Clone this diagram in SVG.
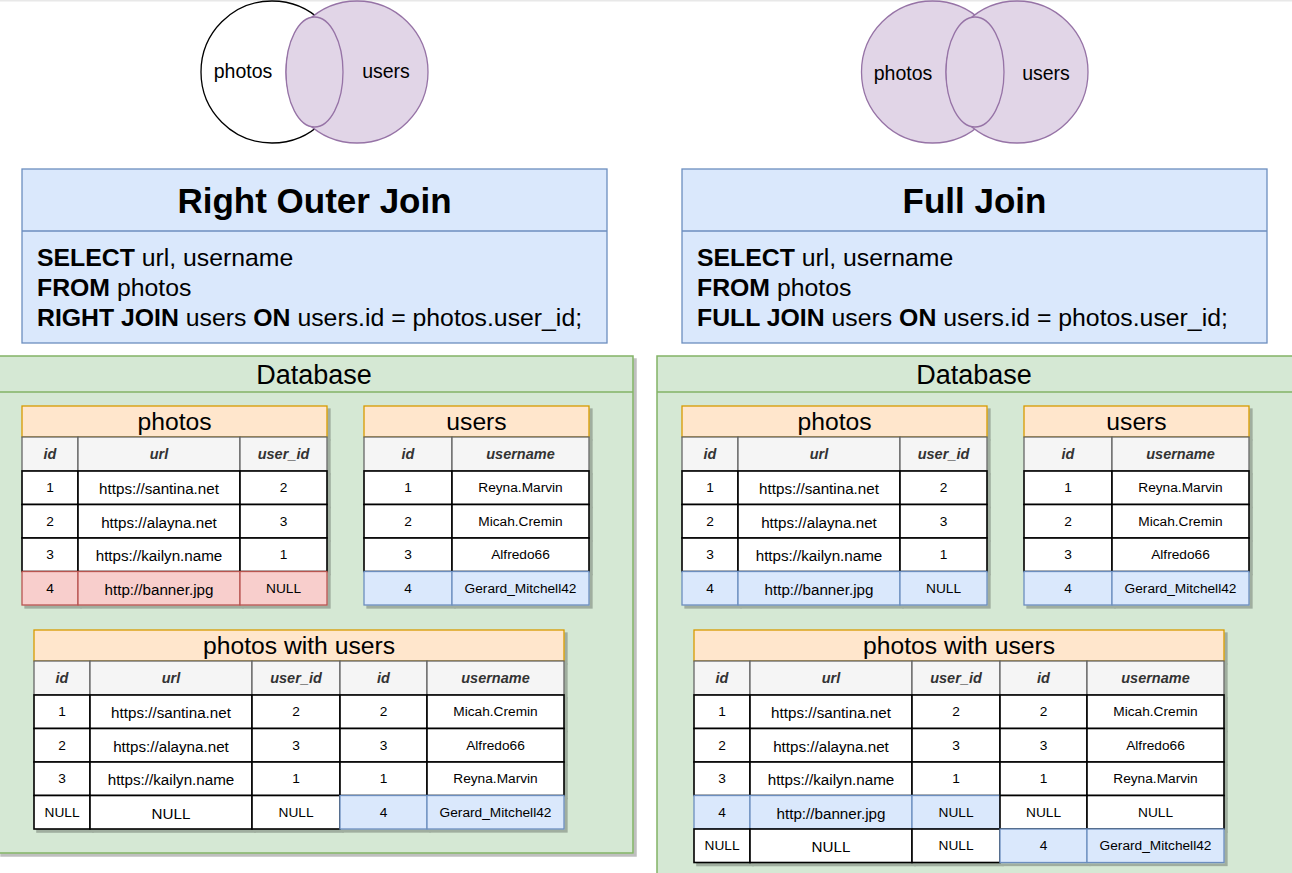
<svg xmlns="http://www.w3.org/2000/svg" width="1292" height="873" viewBox="0 0 1292 873">
<style>
text{font-family:"Liberation Sans",Arial,sans-serif;fill:#000;dominant-baseline:central;text-anchor:middle}
.venn{font-size:19.5px}
.jt{font-size:35px;font-weight:bold}
.sql{font-size:24.8px;text-anchor:start}
.b{font-weight:bold}
.db{font-size:27px}
.tt{font-size:24.7px}
.h{font-size:14.5px;font-weight:bold;font-style:italic;fill:#333}
.c{font-size:13.7px}
.u{font-size:15.2px}
.pur{fill:#e1d5e7;stroke:#9673a6;stroke-width:1.3}
.blueBox{fill:#dae8fc;stroke:#6c8ebf;stroke-width:1.3}
.cont{fill:#d5e8d4;stroke:#82b366;stroke-width:1.5}
.ttl{fill:#ffe6cc;stroke:#d79b00;stroke-width:1.3}
.hd{fill:#f5f5f5;stroke:#666;stroke-width:1.3}
.w{fill:#fff;stroke:#000;stroke-width:1.6}
.r{fill:#f8cecc;stroke:#b85450;stroke-width:1.3}
.bl{fill:#dae8fc;stroke:#6c8ebf;stroke-width:1.3}
</style>
<defs>
<filter id="sh" x="-5%" y="-5%" width="115%" height="115%">
<feDropShadow dx="3" dy="3" stdDeviation="0.7" flood-color="#000" flood-opacity="0.25"/>
</filter>
</defs>
<rect x="0" y="0" width="1292" height="873" fill="#fff"/>
<rect x="0" y="0" width="1292" height="1.5" fill="#e8e8e8"/>

<g id="venn-right-join">
<circle cx="272" cy="72" r="71" fill="#fff" stroke="#000" stroke-width="1.3"/>
<circle class="pur" cx="357" cy="72" r="71"/>
<ellipse class="pur" cx="314.5" cy="72" rx="28.5" ry="55"/>
<text class="venn" x="243" y="71">photos</text>
<text class="venn" x="386" y="71">users</text>
</g>
<g id="venn-full-join">
<circle class="pur" cx="932.5" cy="72" r="71"/>
<circle class="pur" cx="1017" cy="72" r="71"/>
<ellipse class="pur" cx="975" cy="72" rx="29" ry="55"/>
<text class="venn" x="903" y="73">photos</text>
<text class="venn" x="1046" y="73">users</text>
</g>

<g id="right-join-query">
<rect class="blueBox" x="22" y="169" width="585" height="174"/>
<line x1="22" y1="231" x2="607" y2="231" stroke="#6c8ebf" stroke-width="1.3"/>
<text class="jt" x="314.5" y="200">Right Outer Join</text>
<text class="sql" x="37" y="257"><tspan class="b">SELECT</tspan> url, username</text>
<text class="sql" x="37" y="287"><tspan class="b">FROM</tspan> photos</text>
<text class="sql" x="37" y="317"><tspan class="b">RIGHT JOIN</tspan> users <tspan class="b">ON</tspan> users.id = photos.user_id;</text>
</g>
<g id="full-join-query">
<rect class="blueBox" x="682" y="169" width="585" height="174"/>
<line x1="682" y1="231" x2="1267" y2="231" stroke="#6c8ebf" stroke-width="1.3"/>
<text class="jt" x="974.5" y="200">Full Join</text>
<text class="sql" x="697" y="257"><tspan class="b">SELECT</tspan> url, username</text>
<text class="sql" x="697" y="287"><tspan class="b">FROM</tspan> photos</text>
<text class="sql" x="697" y="317"><tspan class="b">FULL JOIN</tspan> users <tspan class="b">ON</tspan> users.id = photos.user_id;</text>
</g>

<g id="database-left">
<rect class="cont" x="-2" y="356" width="635" height="497" filter="url(#sh)"/>
<line x1="-2" y1="392" x2="633" y2="392" stroke="#82b366" stroke-width="1.5"/>
<text class="db" x="314" y="375">Database</text>
</g>
<g id="database-right">
<rect class="cont" x="657" y="356" width="640" height="530" filter="url(#sh)"/>
<line x1="657" y1="392" x2="1297" y2="392" stroke="#82b366" stroke-width="1.5"/>
<text class="db" x="974" y="375">Database</text>
</g>

<!-- LEFT photos -->
<g id="left-photos" filter="url(#sh)">
<rect class="ttl" x="22" y="406" width="305" height="31"/>
<rect class="hd" x="22" y="437" width="56" height="34"/><rect class="hd" x="78" y="437" width="162" height="34"/><rect class="hd" x="240" y="437" width="87" height="34"/>
<rect class="w" x="22" y="471" width="56" height="33.5"/><rect class="w" x="78" y="471" width="162" height="33.5"/><rect class="w" x="240" y="471" width="87" height="33.5"/>
<rect class="w" x="22" y="504.5" width="56" height="33.5"/><rect class="w" x="78" y="504.5" width="162" height="33.5"/><rect class="w" x="240" y="504.5" width="87" height="33.5"/>
<rect class="w" x="22" y="538" width="56" height="33.5"/><rect class="w" x="78" y="538" width="162" height="33.5"/><rect class="w" x="240" y="538" width="87" height="33.5"/>
<rect class="r" x="22" y="571.5" width="56" height="33.5"/><rect class="r" x="78" y="571.5" width="162" height="33.5"/><rect class="r" x="240" y="571.5" width="87" height="33.5"/>
</g>
<g id="left-photos-text">
<text class="tt" x="174.5" y="421.5">photos</text>
<text class="h" x="50" y="454">id</text><text class="h" x="159" y="454">url</text><text class="h" x="283.5" y="454">user_id</text>
<text class="c" x="50" y="487.75">1</text><text class="u" x="159" y="488.5">https://santina.net</text><text class="c" x="283.5" y="487.75">2</text>
<text class="c" x="50" y="521.25">2</text><text class="u" x="159" y="522">https://alayna.net</text><text class="c" x="283.5" y="521.25">3</text>
<text class="c" x="50" y="554.75">3</text><text class="u" x="159" y="555.5">https://kailyn.name</text><text class="c" x="283.5" y="554.75">1</text>
<text class="c" x="50" y="588.25">4</text><text class="u" x="159" y="589">http://banner.jpg</text><text class="c" x="283.5" y="588.25">NULL</text>
</g>

<!-- LEFT users -->
<g id="left-users" filter="url(#sh)">
<rect class="ttl" x="364" y="406" width="225" height="31"/>
<rect class="hd" x="364" y="437" width="88" height="34"/><rect class="hd" x="452" y="437" width="137" height="34"/>
<rect class="w" x="364" y="471" width="88" height="33.5"/><rect class="w" x="452" y="471" width="137" height="33.5"/>
<rect class="w" x="364" y="504.5" width="88" height="33.5"/><rect class="w" x="452" y="504.5" width="137" height="33.5"/>
<rect class="w" x="364" y="538" width="88" height="33.5"/><rect class="w" x="452" y="538" width="137" height="33.5"/>
<rect class="bl" x="364" y="571.5" width="88" height="33.5"/><rect class="bl" x="452" y="571.5" width="137" height="33.5"/>
</g>
<g id="left-users-text">
<text class="tt" x="476.5" y="421.5">users</text>
<text class="h" x="408" y="454">id</text><text class="h" x="520.5" y="454">username</text>
<text class="c" x="408" y="487.75">1</text><text class="c" x="520.5" y="487.75">Reyna.Marvin</text>
<text class="c" x="408" y="521.25">2</text><text class="c" x="520.5" y="521.25">Micah.Cremin</text>
<text class="c" x="408" y="554.75">3</text><text class="c" x="520.5" y="554.75">Alfredo66</text>
<text class="c" x="408" y="588.25">4</text><text class="c" x="520.5" y="588.25">Gerard_Mitchell42</text>
</g>

<!-- LEFT combined -->
<g id="left-joined" filter="url(#sh)">
<rect class="ttl" x="34" y="630" width="530" height="31"/>
<rect class="hd" x="34" y="661" width="56" height="34"/><rect class="hd" x="90" y="661" width="162" height="34"/><rect class="hd" x="252" y="661" width="88" height="34"/><rect class="hd" x="340" y="661" width="87" height="34"/><rect class="hd" x="427" y="661" width="137" height="34"/>
<rect class="w" x="34" y="695" width="56" height="33.5"/><rect class="w" x="90" y="695" width="162" height="33.5"/><rect class="w" x="252" y="695" width="88" height="33.5"/><rect class="w" x="340" y="695" width="87" height="33.5"/><rect class="w" x="427" y="695" width="137" height="33.5"/>
<rect class="w" x="34" y="728.5" width="56" height="33.5"/><rect class="w" x="90" y="728.5" width="162" height="33.5"/><rect class="w" x="252" y="728.5" width="88" height="33.5"/><rect class="w" x="340" y="728.5" width="87" height="33.5"/><rect class="w" x="427" y="728.5" width="137" height="33.5"/>
<rect class="w" x="34" y="762" width="56" height="33.5"/><rect class="w" x="90" y="762" width="162" height="33.5"/><rect class="w" x="252" y="762" width="88" height="33.5"/><rect class="w" x="340" y="762" width="87" height="33.5"/><rect class="w" x="427" y="762" width="137" height="33.5"/>
<rect class="w" x="34" y="795.5" width="56" height="33.5"/><rect class="w" x="90" y="795.5" width="162" height="33.5"/><rect class="w" x="252" y="795.5" width="88" height="33.5"/><rect class="bl" x="340" y="795.5" width="87" height="33.5"/><rect class="bl" x="427" y="795.5" width="137" height="33.5"/>
</g>
<g id="left-joined-text">
<text class="tt" x="299" y="645.5">photos with users</text>
<text class="h" x="62" y="678">id</text><text class="h" x="171" y="678">url</text><text class="h" x="296" y="678">user_id</text><text class="h" x="383.5" y="678">id</text><text class="h" x="495.5" y="678">username</text>
<text class="c" x="62" y="711.75">1</text><text class="u" x="171" y="712.5">https://santina.net</text><text class="c" x="296" y="711.75">2</text><text class="c" x="383.5" y="711.75">2</text><text class="c" x="495.5" y="711.75">Micah.Cremin</text>
<text class="c" x="62" y="745.25">2</text><text class="u" x="171" y="746">https://alayna.net</text><text class="c" x="296" y="745.25">3</text><text class="c" x="383.5" y="745.25">3</text><text class="c" x="495.5" y="745.25">Alfredo66</text>
<text class="c" x="62" y="778.75">3</text><text class="u" x="171" y="779.5">https://kailyn.name</text><text class="c" x="296" y="778.75">1</text><text class="c" x="383.5" y="778.75">1</text><text class="c" x="495.5" y="778.75">Reyna.Marvin</text>
<text class="c" x="62" y="812.25">NULL</text><text class="u" x="171" y="813">NULL</text><text class="c" x="296" y="812.25">NULL</text><text class="c" x="383.5" y="812.25">4</text><text class="c" x="495.5" y="812.25">Gerard_Mitchell42</text>
</g>

<!-- RIGHT photos -->
<g id="right-photos" filter="url(#sh)">
<rect class="ttl" x="682" y="406" width="305" height="31"/>
<rect class="hd" x="682" y="437" width="56" height="34"/><rect class="hd" x="738" y="437" width="162" height="34"/><rect class="hd" x="900" y="437" width="87" height="34"/>
<rect class="w" x="682" y="471" width="56" height="33.5"/><rect class="w" x="738" y="471" width="162" height="33.5"/><rect class="w" x="900" y="471" width="87" height="33.5"/>
<rect class="w" x="682" y="504.5" width="56" height="33.5"/><rect class="w" x="738" y="504.5" width="162" height="33.5"/><rect class="w" x="900" y="504.5" width="87" height="33.5"/>
<rect class="w" x="682" y="538" width="56" height="33.5"/><rect class="w" x="738" y="538" width="162" height="33.5"/><rect class="w" x="900" y="538" width="87" height="33.5"/>
<rect class="bl" x="682" y="571.5" width="56" height="33.5"/><rect class="bl" x="738" y="571.5" width="162" height="33.5"/><rect class="bl" x="900" y="571.5" width="87" height="33.5"/>
</g>
<g id="right-photos-text">
<text class="tt" x="834.5" y="421.5">photos</text>
<text class="h" x="710" y="454">id</text><text class="h" x="819" y="454">url</text><text class="h" x="943.5" y="454">user_id</text>
<text class="c" x="710" y="487.75">1</text><text class="u" x="819" y="488.5">https://santina.net</text><text class="c" x="943.5" y="487.75">2</text>
<text class="c" x="710" y="521.25">2</text><text class="u" x="819" y="522">https://alayna.net</text><text class="c" x="943.5" y="521.25">3</text>
<text class="c" x="710" y="554.75">3</text><text class="u" x="819" y="555.5">https://kailyn.name</text><text class="c" x="943.5" y="554.75">1</text>
<text class="c" x="710" y="588.25">4</text><text class="u" x="819" y="589">http://banner.jpg</text><text class="c" x="943.5" y="588.25">NULL</text>
</g>

<!-- RIGHT users -->
<g id="right-users" filter="url(#sh)">
<rect class="ttl" x="1024" y="406" width="225" height="31"/>
<rect class="hd" x="1024" y="437" width="88" height="34"/><rect class="hd" x="1112" y="437" width="137" height="34"/>
<rect class="w" x="1024" y="471" width="88" height="33.5"/><rect class="w" x="1112" y="471" width="137" height="33.5"/>
<rect class="w" x="1024" y="504.5" width="88" height="33.5"/><rect class="w" x="1112" y="504.5" width="137" height="33.5"/>
<rect class="w" x="1024" y="538" width="88" height="33.5"/><rect class="w" x="1112" y="538" width="137" height="33.5"/>
<rect class="bl" x="1024" y="571.5" width="88" height="33.5"/><rect class="bl" x="1112" y="571.5" width="137" height="33.5"/>
</g>
<g id="right-users-text">
<text class="tt" x="1136.5" y="421.5">users</text>
<text class="h" x="1068" y="454">id</text><text class="h" x="1180.5" y="454">username</text>
<text class="c" x="1068" y="487.75">1</text><text class="c" x="1180.5" y="487.75">Reyna.Marvin</text>
<text class="c" x="1068" y="521.25">2</text><text class="c" x="1180.5" y="521.25">Micah.Cremin</text>
<text class="c" x="1068" y="554.75">3</text><text class="c" x="1180.5" y="554.75">Alfredo66</text>
<text class="c" x="1068" y="588.25">4</text><text class="c" x="1180.5" y="588.25">Gerard_Mitchell42</text>
</g>

<!-- RIGHT combined -->
<g id="right-joined" filter="url(#sh)">
<rect class="ttl" x="694" y="630" width="530" height="31"/>
<rect class="hd" x="694" y="661" width="56" height="34"/><rect class="hd" x="750" y="661" width="162" height="34"/><rect class="hd" x="912" y="661" width="88" height="34"/><rect class="hd" x="1000" y="661" width="87" height="34"/><rect class="hd" x="1087" y="661" width="137" height="34"/>
<rect class="w" x="694" y="695" width="56" height="33.5"/><rect class="w" x="750" y="695" width="162" height="33.5"/><rect class="w" x="912" y="695" width="88" height="33.5"/><rect class="w" x="1000" y="695" width="87" height="33.5"/><rect class="w" x="1087" y="695" width="137" height="33.5"/>
<rect class="w" x="694" y="728.5" width="56" height="33.5"/><rect class="w" x="750" y="728.5" width="162" height="33.5"/><rect class="w" x="912" y="728.5" width="88" height="33.5"/><rect class="w" x="1000" y="728.5" width="87" height="33.5"/><rect class="w" x="1087" y="728.5" width="137" height="33.5"/>
<rect class="w" x="694" y="762" width="56" height="33.5"/><rect class="w" x="750" y="762" width="162" height="33.5"/><rect class="w" x="912" y="762" width="88" height="33.5"/><rect class="w" x="1000" y="762" width="87" height="33.5"/><rect class="w" x="1087" y="762" width="137" height="33.5"/>
<rect class="bl" x="694" y="795.5" width="56" height="33.5"/><rect class="bl" x="750" y="795.5" width="162" height="33.5"/><rect class="bl" x="912" y="795.5" width="88" height="33.5"/><rect class="w" x="1000" y="795.5" width="87" height="33.5"/><rect class="w" x="1087" y="795.5" width="137" height="33.5"/>
<rect class="w" x="694" y="829" width="56" height="33.5"/><rect class="w" x="750" y="829" width="162" height="33.5"/><rect class="w" x="912" y="829" width="88" height="33.5"/><rect class="bl" x="1000" y="829" width="87" height="33.5"/><rect class="bl" x="1087" y="829" width="137" height="33.5"/>
</g>
<g id="right-joined-text">
<text class="tt" x="959" y="645.5">photos with users</text>
<text class="h" x="722" y="678">id</text><text class="h" x="831" y="678">url</text><text class="h" x="956" y="678">user_id</text><text class="h" x="1043.5" y="678">id</text><text class="h" x="1155.5" y="678">username</text>
<text class="c" x="722" y="711.75">1</text><text class="u" x="831" y="712.5">https://santina.net</text><text class="c" x="956" y="711.75">2</text><text class="c" x="1043.5" y="711.75">2</text><text class="c" x="1155.5" y="711.75">Micah.Cremin</text>
<text class="c" x="722" y="745.25">2</text><text class="u" x="831" y="746">https://alayna.net</text><text class="c" x="956" y="745.25">3</text><text class="c" x="1043.5" y="745.25">3</text><text class="c" x="1155.5" y="745.25">Alfredo66</text>
<text class="c" x="722" y="778.75">3</text><text class="u" x="831" y="779.5">https://kailyn.name</text><text class="c" x="956" y="778.75">1</text><text class="c" x="1043.5" y="778.75">1</text><text class="c" x="1155.5" y="778.75">Reyna.Marvin</text>
<text class="c" x="722" y="812.25">4</text><text class="u" x="831" y="813">http://banner.jpg</text><text class="c" x="956" y="812.25">NULL</text><text class="c" x="1043.5" y="812.25">NULL</text><text class="c" x="1155.5" y="812.25">NULL</text>
<text class="c" x="722" y="845.75">NULL</text><text class="u" x="831" y="846.5">NULL</text><text class="c" x="956" y="845.75">NULL</text><text class="c" x="1043.5" y="845.75">4</text><text class="c" x="1155.5" y="845.75">Gerard_Mitchell42</text>
</g>
<g id="connectors"/>
</svg>
